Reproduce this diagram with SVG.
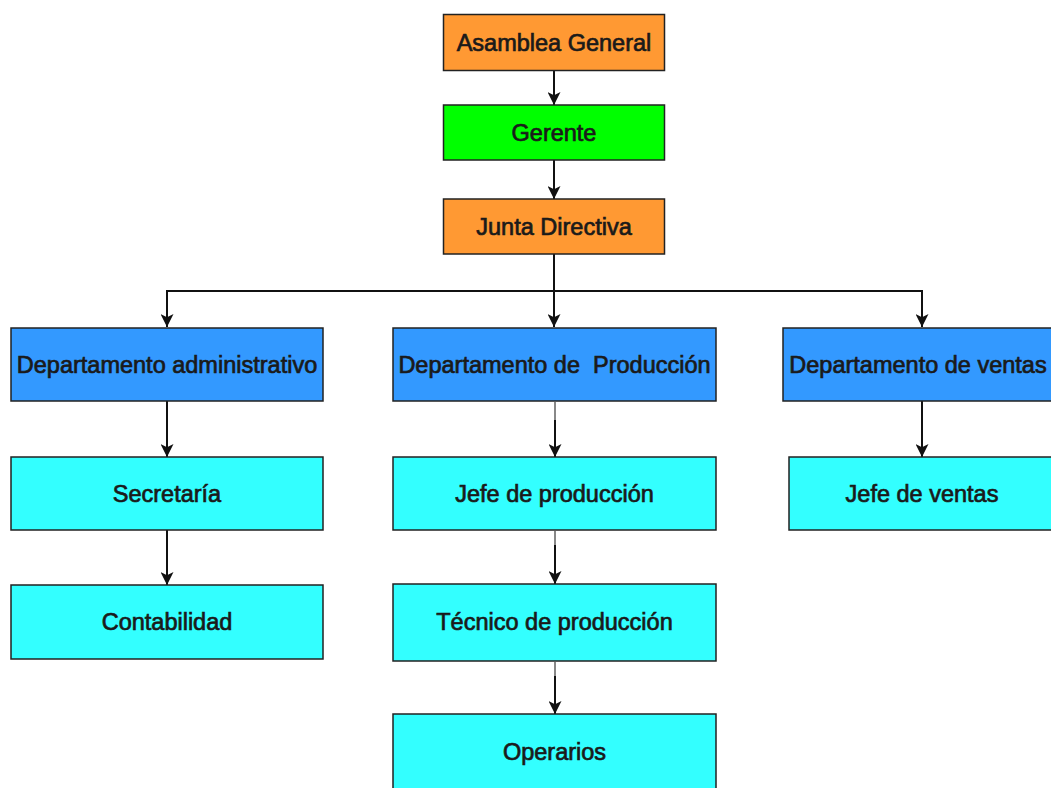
<svg xmlns="http://www.w3.org/2000/svg" width="1051" height="788" viewBox="0 0 1051 788">
<defs>
<style>
.box{stroke:#222;stroke-width:1.5}
.or{fill:#FF9933}.gr{fill:#00FF00}.bl{fill:#3399FF}.cy{fill:#33FFFF}
.t{font-family:"Liberation Sans",Arial,sans-serif;font-size:23.5px;fill:#1a1a1a;stroke:#1a1a1a;stroke-width:0.7;text-anchor:middle;dominant-baseline:central}
.c{stroke:#111;stroke-width:2;fill:none}
.g{stroke:#888;stroke-width:2;fill:none}
</style>
<marker id="ah" viewBox="0 0 10 10" refX="10" refY="5" markerWidth="13" markerHeight="13" markerUnits="userSpaceOnUse" orient="auto">
<path d="M0,0 L10,5 L0,10 L2.5,5 Z" fill="#111"/>
</marker>
</defs>
<rect width="1051" height="788" fill="#fff"/>
<g id="connectors">
<path class="c" d="M554,70 V105" marker-end="url(#ah)"/>
<path class="c" d="M554,160 V199" marker-end="url(#ah)"/>
<path class="c" d="M554,254 V327" marker-end="url(#ah)"/>
<path class="c" d="M554,291 H167 V327" marker-end="url(#ah)"/>
<path class="c" d="M554,291 H922 V327" marker-end="url(#ah)"/>
<path class="c" d="M167,401 V457" marker-end="url(#ah)"/>
<path class="c" d="M167,530 V585" marker-end="url(#ah)"/>
<path class="c" d="M922,401 V457" marker-end="url(#ah)"/>
<path class="c" d="M555,420 V457" marker-end="url(#ah)"/>
<path class="g" d="M555,402 V420"/>
<path class="c" d="M555,545 V584" marker-end="url(#ah)"/>
<path class="g" d="M555,531 V545"/>
<path class="c" d="M555,676 V714" marker-end="url(#ah)"/>
<path class="g" d="M555,662 V676"/>
</g>
<g id="asamblea"><rect class="box or" x="443.5" y="14.5" width="221" height="56"/><text class="t" x="554" y="42.5">Asamblea General</text></g>
<g id="gerente"><rect class="box gr" x="443.5" y="105" width="221" height="55"/><text class="t" x="554" y="132.5">Gerente</text></g>
<g id="junta"><rect class="box or" x="443.5" y="199" width="221" height="55"/><text class="t" x="554" y="226.5">Junta Directiva</text></g>
<g id="dep-admin"><rect class="box bl" x="11" y="328" width="312" height="73"/><text class="t" x="167" y="364.5">Departamento administrativo</text></g>
<g id="dep-prod"><rect class="box bl" x="393" y="328" width="323" height="73"/><text class="t" x="554.5" y="364.5" xml:space="preserve">Departamento de  Producción</text></g>
<g id="dep-ventas"><rect class="box bl" x="783" y="328" width="278" height="73"/><text class="t" x="918" y="364.5">Departamento de ventas</text></g>
<g id="secretaria"><rect class="box cy" x="11" y="457" width="312" height="73"/><text class="t" x="167" y="493.5">Secretaría</text></g>
<g id="jefe-prod"><rect class="box cy" x="393" y="457" width="323" height="73"/><text class="t" x="554.5" y="493.5">Jefe de producción</text></g>
<g id="jefe-ventas"><rect class="box cy" x="789" y="457" width="270" height="73"/><text class="t" x="922" y="493.5">Jefe de ventas</text></g>
<g id="contabilidad"><rect class="box cy" x="11" y="585" width="312" height="74"/><text class="t" x="167" y="622">Contabilidad</text></g>
<g id="tecnico"><rect class="box cy" x="393" y="584" width="323" height="77"/><text class="t" x="554.5" y="622">Técnico de producción</text></g>
<g id="operarios"><rect class="box cy" x="393" y="714" width="323" height="80"/><text class="t" x="554.5" y="752">Operarios</text></g>
</svg>
